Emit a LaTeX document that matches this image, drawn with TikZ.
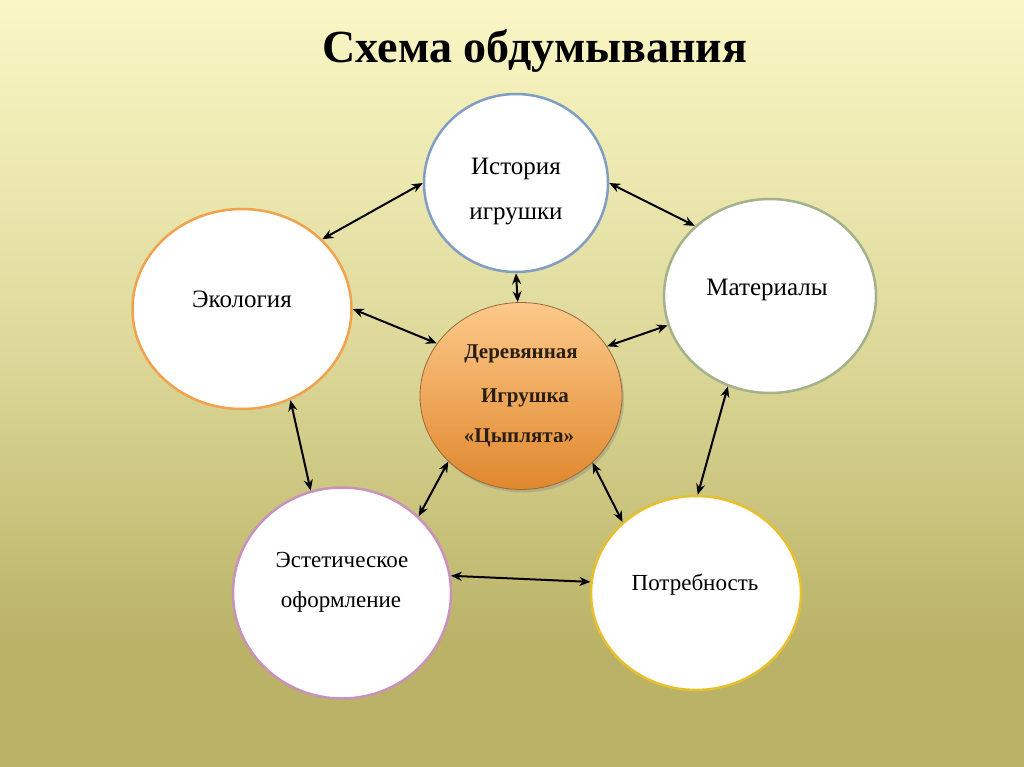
\documentclass[tikz,border=0pt]{standalone}
\usepackage{fontspec}
\setmainfont{Liberation Serif}
\usetikzlibrary{shapes.geometric,arrows.meta,shadows}
\definecolor{bgtop}{HTML}{FAF7C6}
\definecolor{bgmid}{HTML}{DDD899}
\definecolor{bgbot}{HTML}{B9B267}
\definecolor{histc}{HTML}{809DC2}
\definecolor{ecoc}{HTML}{F0A24E}
\definecolor{matc}{HTML}{A3B28A}
\definecolor{estc}{HTML}{C992BA}
\definecolor{potc}{HTML}{E8C02E}
\definecolor{ctop}{HTML}{FCC98A}
\definecolor{cbot}{HTML}{E0872D}
\definecolor{cbord}{HTML}{9A6A3A}
\definecolor{ctext}{HTML}{2A1E12}
\pgfdeclareverticalshading{bgshade}{100bp}{color(0bp)=(bgbot); color(25bp)=(bgbot); color(33bp)=(bgbot); color(52bp)=(bgmid); color(75bp)=(bgtop); color(100bp)=(bgtop)}
\tikzset{
  bubble/.style={ellipse, fill=white, line width=2.5pt, inner sep=0pt},
  lbl/.style={font=\fontsize{25}{30}\selectfont, text=black, inner sep=0pt, anchor=base},
  slbl/.style={font=\fontsize{23}{28}\selectfont, text=black, inner sep=0pt, anchor=base},
  clbl/.style={font=\bfseries\fontsize{21}{25}\selectfont, text=ctext, inner sep=0pt, anchor=base},
  link/.style={line width=2pt, black, {Stealth[length=11pt,width=9pt]}-{Stealth[length=11pt,width=9pt]}}
}
\begin{document}
\begin{tikzpicture}[x=1pt,y=-1pt]
\useasboundingbox (0,0) rectangle (1024,767);
\shade[shading=bgshade] (0,0) rectangle (1024,767);
\node[anchor=base, inner sep=0pt] (title) at (535,63) {\bfseries\fontsize{46}{52}\selectfont Схема обдумывания};

\node[bubble, draw=histc, minimum width=184pt, minimum height=178pt] (hist) at (516,183) {};
\node[bubble, draw=ecoc, minimum width=219pt, minimum height=200pt] (eco) at (242,309) {};
\node[bubble, draw=matc, minimum width=212pt, minimum height=194pt] (mat) at (770,296) {};
\node[bubble, draw=estc, minimum width=218pt, minimum height=211pt] (est) at (342,593) {};
\node[bubble, draw=potc, minimum width=210pt, minimum height=194pt] (pot) at (696,593) {};
\node[ellipse, inner sep=0pt, minimum width=202pt, minimum height=187pt, top color=ctop, bottom color=cbot, draw=cbord, line width=0.8pt, drop shadow={opacity=0.35, shadow xshift=2pt, shadow yshift=-3pt}] (ctr) at (521,396) {};

\node[lbl] (histt1) at (516,175) {История};
\node[lbl] (histt2) at (516,220) {игрушки};
\node[lbl] (ecot) at (242,307) {Экология};
\node[lbl] (matt) at (767,295) {Материалы};
\node[slbl] (estt1) at (342,567) {Эстетическое};
\node[slbl] (estt2) at (341,607) {оформление};
\node[slbl] (pott) at (695,590) {Потребность};
\node[clbl] (ct1) at (521,358) {Деревянная};
\node[clbl] (ct2) at (525,402) {Игрушка};
\node[clbl] (ct3) at (519,442) {«Цыплята»};

\draw[link] (eco.41) -- (hist.180);
\draw[link] (hist.0) -- (mat.137);
\draw[link] (hist.270) -- (ctr.92);
\draw[link] (eco.0) -- (ctr.148);
\draw[link] (mat.196) -- (ctr.30);
\draw[link] (eco.298) -- (est.107);
\draw[link] (mat.245) -- (pot.89);
\draw[link] (ctr.222) -- (est.45);
\draw[link] (ctr.317) -- (pot.136);
\draw[link] (est.9) -- (pot.174);
\end{tikzpicture}
\end{document}
